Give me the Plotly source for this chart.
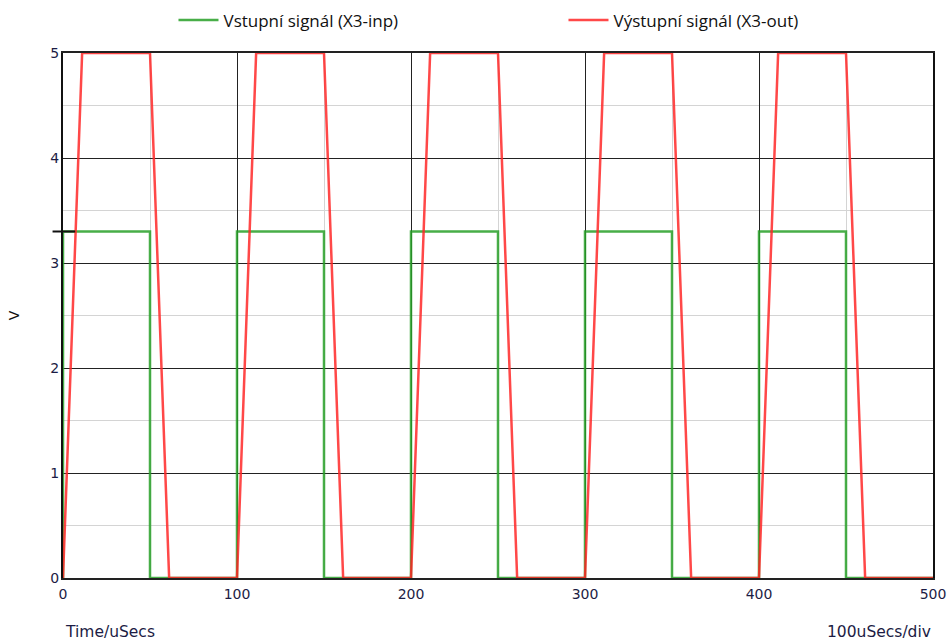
import plotly.graph_objects as go

# Data (time in microseconds, voltage in V)
inp_t = [0, 0, 50, 50, 100, 100, 150, 150, 200, 200, 250, 250, 300, 300, 350, 350, 400, 400, 450, 450, 500]
inp_v = [0, 3.3, 3.3, 0, 0, 3.3, 3.3, 0, 0, 3.3, 3.3, 0, 0, 3.3, 3.3, 0, 0, 3.3, 3.3, 0, 0]

out_t = [0, 11, 50, 61, 100, 111, 150, 161, 200, 211, 250, 261, 300, 311, 350, 361, 400, 411, 450, 461, 500]
out_v = [0, 5, 5, 0, 0, 5, 5, 0, 0, 5, 5, 0, 0, 5, 5, 0, 0, 5, 5, 0, 0]

inp_name = "Vstupní signál (X3-inp)"
out_name = "Výstupní signál (X3-out)"
x_ticks = [0, 100, 200, 300, 400, 500]
y_ticks = [0, 1, 2, 3, 4, 5]
v_marker = 3.3

fig = go.Figure()
fig.add_trace(go.Scatter(x=inp_t, y=inp_v, mode="lines", name=inp_name,
                         line=dict(color="rgba(40,160,40,0.85)", width=2.5), cliponaxis=False))
fig.add_trace(go.Scatter(x=out_t, y=out_v, mode="lines", name=out_name,
                         line=dict(color="rgba(255,40,40,0.85)", width=2.5), cliponaxis=False))

fig.add_shape(type="line", xref="x domain", yref="y", x0=-0.012, x1=0.014, y0=v_marker, y1=v_marker,
              line=dict(color="#111", width=2))

tickfont = dict(family="DejaVu Sans", size=14, color="#1c1c44")
labelfont = dict(family="DejaVu Sans", size=15.5, color="#1c1c44")
fig.update_layout(
    width=948, height=641,
    margin=dict(l=63, r=15, t=53, b=63, autoexpand=False),
    paper_bgcolor="white", plot_bgcolor="white",
    showlegend=True,
    legend=dict(orientation="h", x=0.127, xanchor="left", y=1.062, yanchor="middle",
                font=dict(family="Open Sans", size=17, color="#111"),
                entrywidth=335, entrywidthmode="pixels", itemwidth=40,
                bgcolor="rgba(0,0,0,0)"),
    xaxis=dict(range=[0, 500], tickvals=x_ticks, ticktext=[str(v) for v in x_ticks],
               showgrid=True, gridcolor="#222", gridwidth=1,
               minor=dict(dtick=50, showgrid=True, gridcolor="#d4d4d4", gridwidth=1),
               showline=True, linecolor="#222", linewidth=1.5, mirror=True,
               zeroline=False, ticks="", tickfont=tickfont, ticklabelstandoff=2, automargin=False),
    yaxis=dict(range=[0, 5], tickvals=y_ticks, ticktext=[str(v) for v in y_ticks],
               showgrid=True, gridcolor="#222", gridwidth=1,
               minor=dict(dtick=0.5, showgrid=True, gridcolor="#d4d4d4", gridwidth=1),
               showline=True, linecolor="#111", linewidth=2, mirror=True,
               zeroline=False, ticks="", tickfont=tickfont, ticklabelstandoff=-1, automargin=False,
               title=dict(text="V", font=dict(family="DejaVu Sans", size=14, color="#111"), standoff=27)),
    annotations=[
        dict(text="Time/uSecs", xref="paper", yref="paper", x=0, y=-0.103, xanchor="left", yanchor="middle",
             showarrow=False, font=labelfont),
        dict(text="100uSecs/div", xref="paper", yref="paper", x=1.0, y=-0.103, xanchor="right", yanchor="middle",
             showarrow=False, font=labelfont),
    ],
)

fig.write_html("out.html")
